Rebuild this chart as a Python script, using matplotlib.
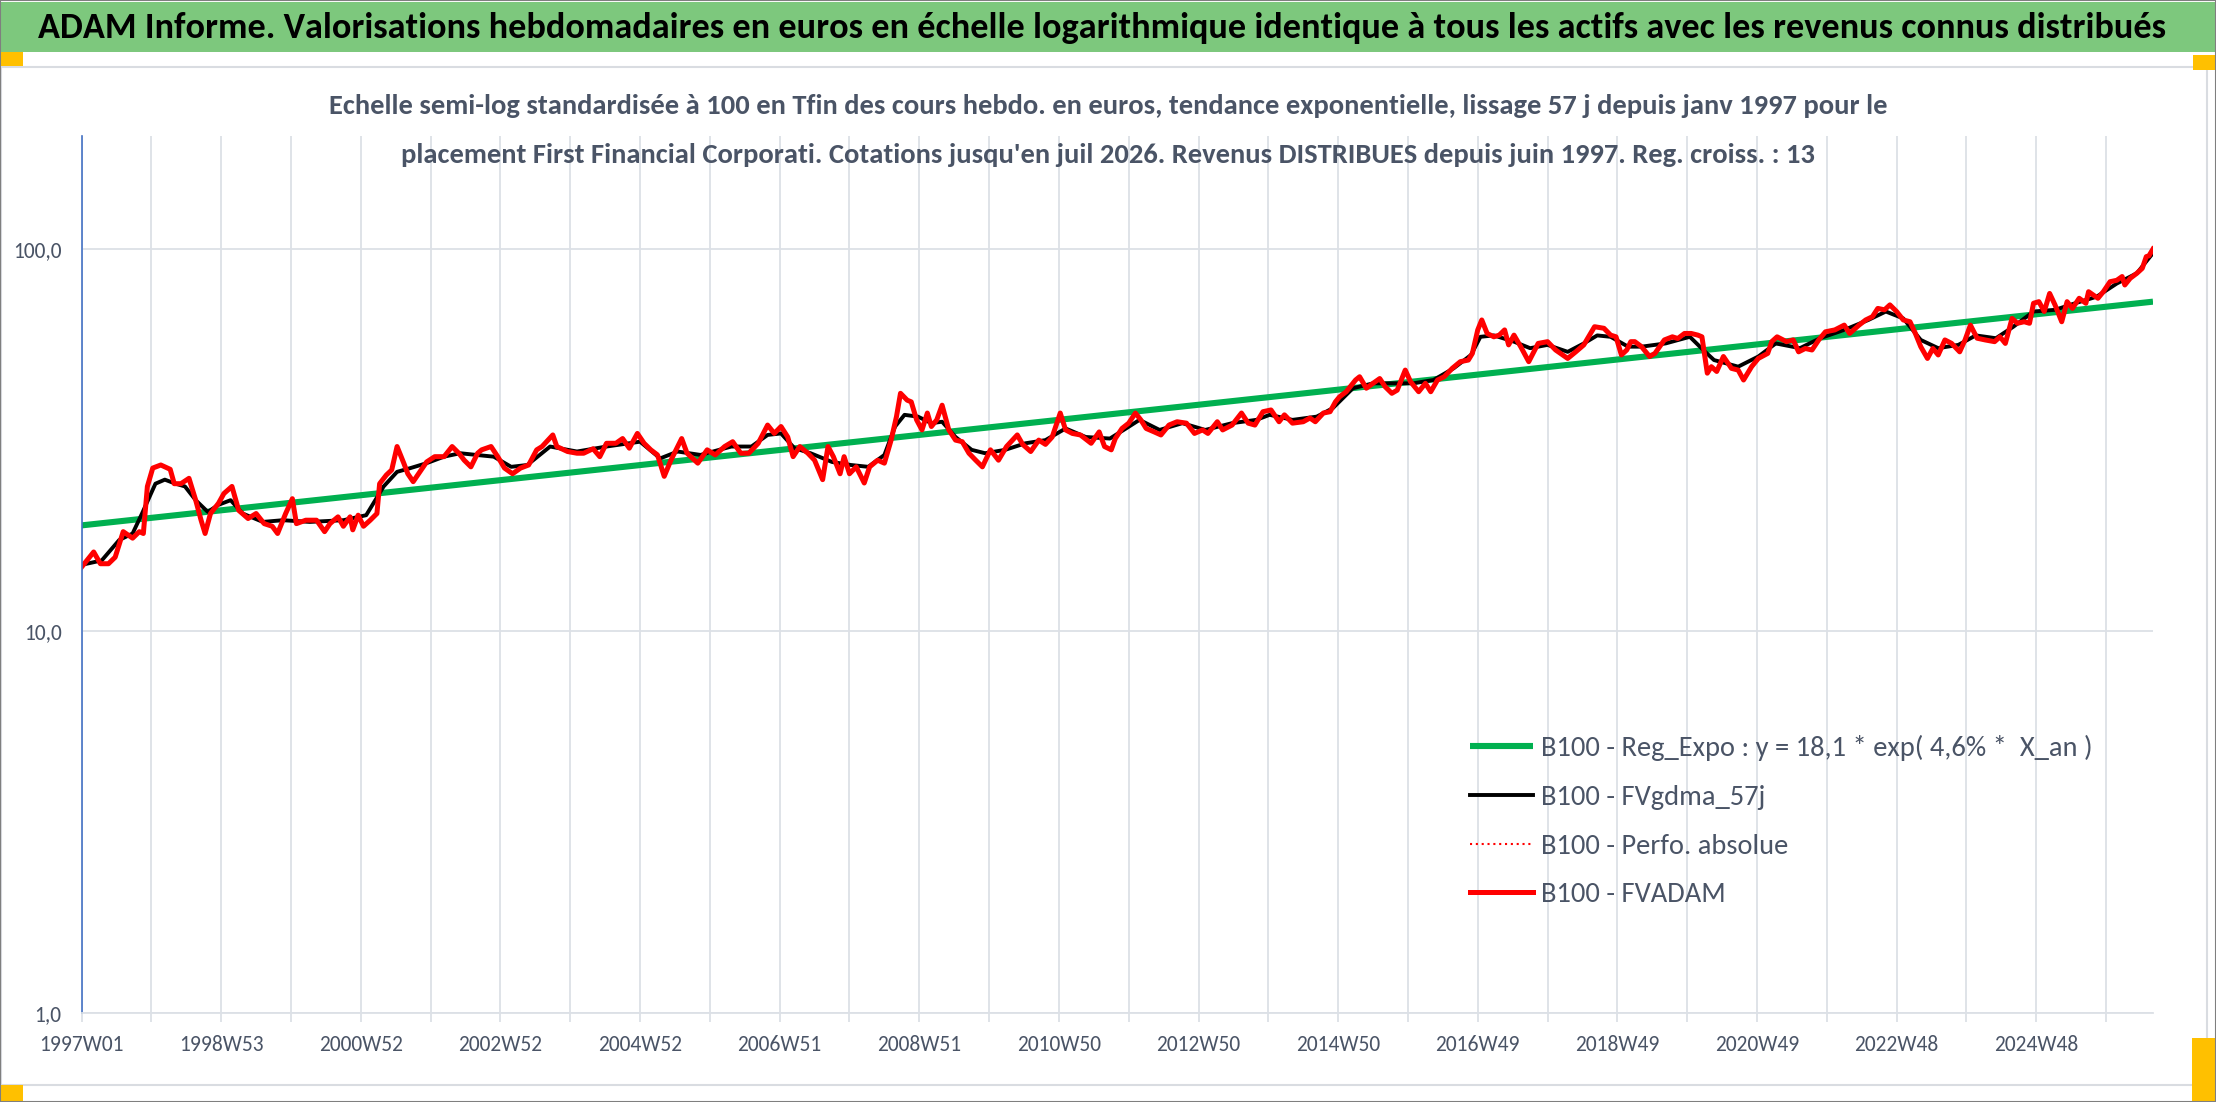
import numpy as np
import matplotlib
matplotlib.use('Agg')
import matplotlib.pyplot as plt
from matplotlib.patches import Rectangle

plt.rc('font', family=['Carlito', 'Lato', 'DejaVu Sans'])

W, H = 2216, 1102
TXT = '#4A5466'
GRID = '#DCE0E6'

# ---- data (x = weeks since 1997W01) ----
red_weeks = [0, 9, 14, 20, 25, 31, 38, 43, 46, 49, 53, 59, 64, 66, 69, 74, 80, 85, 89, 92, 96, 102, 106, 112, 117, 124,
             130, 136, 142, 146, 152, 157, 160, 167, 175, 181, 185, 191, 195, 200, 202, 206, 210, 215, 220, 222, 227,
             231, 235, 240, 243, 247, 251, 257, 263, 270, 276, 281, 285, 290, 295, 298, 305, 310, 315, 321, 327, 333,
             339, 343, 351, 354, 362, 369, 374, 381, 386,
             391, 398, 403, 408, 414, 419, 424, 429, 434, 439, 447, 451, 459, 466, 472, 479, 485, 491, 497, 504, 511,
             516, 521, 526, 530, 535, 541, 546, 552, 556, 560, 565, 568, 572, 577, 583, 587, 593, 598, 603, 607, 610,
             615, 618, 622, 626, 630, 633, 637, 641, 646, 651, 656, 661, 666, 671, 677, 683, 689, 697, 701, 707, 713,
             718, 723, 729, 733, 738, 744, 752, 758, 762, 767, 770,
             775, 780, 785, 789, 793, 799, 804, 810, 816, 823, 829, 835, 839, 846, 850, 857, 864, 869, 874, 880, 886,
             892, 896, 902, 910, 915, 919, 925, 930, 934, 937, 942, 949, 952, 957, 962, 967, 971, 976, 980, 986, 990,
             996, 1001, 1005, 1010, 1015, 1021, 1027, 1033, 1036, 1040, 1043, 1047, 1052, 1056, 1060, 1063, 1067,
             1072, 1078, 1085, 1092, 1098, 1107, 1113, 1119, 1127, 1134, 1139, 1143, 1147, 1151, 1154,
             1157, 1162, 1168, 1172, 1179, 1185, 1189, 1194, 1199, 1204, 1207, 1211, 1214, 1218, 1223, 1229, 1234,
             1238, 1244, 1249, 1256, 1259, 1263, 1270, 1275, 1279, 1284, 1289, 1294, 1299, 1306, 1313, 1317, 1324,
             1329, 1334, 1338, 1343, 1347, 1352, 1357, 1362, 1366, 1370, 1375, 1379, 1383, 1388, 1393, 1399, 1403,
             1407, 1412, 1418, 1425, 1429, 1433, 1438, 1442, 1447, 1451, 1454, 1458, 1462, 1466, 1470, 1475, 1479,
             1483, 1488, 1493, 1495, 1502, 1506, 1511, 1516, 1520, 1522, 1526, 1531, 1535, 1538, 1540, 1543]
red_vals = [14.7, 16.1, 15.0, 15.0, 15.6, 18.2, 17.5, 18.2, 18.0, 23.9, 26.7, 27.2, 26.7, 26.5, 24.3, 24.3, 25.1, 22.0,
            19.5, 18.0, 20.3, 21.6, 22.9, 23.9, 20.7, 19.7,
            20.3, 19.1, 18.8, 18.0, 20.3, 22.2, 19.1, 19.5, 19.5, 18.2, 19.1, 19.9, 18.8, 19.9, 18.4, 20.1, 18.8, 19.5,
            20.3, 24.3, 25.6, 26.4, 30.4, 27.5, 25.8, 24.6, 25.8, 27.7, 28.6, 28.6, 30.4, 29.2, 28.0, 26.9, 29.2, 29.8,
            30.4, 28.6, 26.7, 25.8, 26.7, 27.2, 29.8, 30.4, 32.6, 30.4, 29.5, 29.2, 29.2, 30.0, 28.6,
            31.0, 31.0, 31.9, 30.1, 32.9, 31.0, 29.8, 28.9, 25.4, 28.0, 31.9, 29.2, 27.5, 29.8, 28.9, 30.4, 31.3, 29.2,
            29.2, 31.0, 34.6, 32.9, 34.3, 32.2, 28.6, 30.4, 29.2, 28.0, 24.9, 30.4, 28.6, 25.8, 28.6, 25.8, 26.9, 24.4,
            26.9, 28.0, 27.5, 31.6, 36.4, 41.9, 40.2, 39.8, 35.7, 33.6, 37.2, 34.3, 35.7, 39.0, 33.6, 31.6, 31.3, 29.2,
            28.0, 26.9, 29.8, 28.0, 30.4, 32.6, 30.8, 29.5, 31.6, 30.8, 32.2, 37.2, 33.6, 32.9, 32.6, 31.0, 33.2, 30.4,
            29.8, 31.9,
            33.9, 35.0, 37.2, 35.7, 33.9, 33.2, 32.6, 34.6, 35.3, 35.0, 32.9, 33.6, 32.9, 35.3, 33.6, 34.6, 37.2, 35.0,
            34.6, 37.5, 37.9, 35.3, 36.8, 35.0, 35.3, 36.1, 35.3, 37.2, 37.5, 39.8, 41.0, 42.3, 45.4, 46.3, 43.2, 44.5,
            45.8, 43.6, 41.9, 42.7, 48.2, 44.9, 42.3, 44.5, 42.3, 45.4, 46.3, 48.7, 50.7, 51.2, 53.3, 61.4, 65.2, 60.1,
            58.9, 59.5, 61.4, 56.1, 59.5, 55.5, 50.7, 56.6, 57.2, 54.4, 51.7, 53.8, 56.1, 62.6, 62.0, 59.5, 58.9, 52.8,
            54.4, 57.2,
            57.2, 55.5, 52.3, 53.3, 57.8, 58.9, 58.3, 60.1, 60.1, 59.5, 58.9, 47.3, 49.2, 47.8, 52.3, 48.7, 48.2, 45.4,
            49.2, 51.7, 53.3, 57.2, 58.9, 57.2, 57.8, 53.8, 54.9, 54.4, 57.8, 60.7, 61.4, 63.2, 60.1, 63.2, 65.2, 66.5,
            69.9, 69.3, 71.4, 68.6, 65.2, 64.5, 60.1, 55.5, 51.7, 54.9, 52.8, 57.8, 56.6, 53.8, 57.8, 63.2, 58.4, 57.8,
            57.2, 58.9, 56.6, 65.8, 63.9, 64.5, 63.9, 72.1, 72.8, 68.6, 76.5, 71.4, 64.5, 72.8, 69.9, 74.3, 72.1, 77.3,
            74.3, 77.3, 82.1, 82.8, 84.7, 80.5, 83.8, 86.4, 89.0, 95.5, 96.0, 100.0]

black_weeks = [0, 15, 28, 38, 45, 55, 62, 70, 77, 85, 94, 102, 111, 120, 135, 150, 170, 195, 212, 225, 235, 245, 257,
               270, 282, 294, 307, 320, 332, 349, 369, 391, 416, 431, 444, 461, 484, 499, 511, 521, 531, 543, 559, 573,
               586, 598, 606, 613, 623, 633, 641, 651, 663, 673, 688, 703, 718, 733, 748, 766, 778, 788, 803, 820, 837,
               857, 875, 885, 902, 920, 932, 947, 962, 977, 992, 1007, 1022, 1035, 1042, 1052, 1067, 1079, 1092, 1107,
               1119, 1129, 1139, 1152, 1162, 1180, 1198, 1208, 1216, 1234, 1249, 1262, 1280, 1295, 1313, 1331, 1344,
               1357, 1370, 1383, 1398, 1411, 1426, 1439, 1454, 1470, 1485, 1501, 1516, 1531, 1543]
black_vals = [14.9, 15.3, 17.3, 18.0, 20.3, 24.3, 24.9, 24.3, 23.9, 22.0, 20.5, 21.4, 22.0, 20.3, 19.3, 19.5, 19.3,
              19.5, 20.1, 23.9, 26.1, 26.7, 27.5, 28.6, 29.2, 28.9, 28.6, 26.9, 27.2, 30.4, 29.5, 30.4, 31.3, 28.3,
              29.5, 28.9, 30.4, 30.4, 32.6, 32.9, 30.1, 29.2, 27.7, 27.2, 26.9, 28.9, 34.3, 36.8, 36.4, 35.0, 35.3,
              32.2, 29.8, 29.2, 29.8, 31.0, 31.6, 33.9, 32.2, 31.9, 33.9, 35.7, 33.6, 35.0, 33.6, 35.0, 35.7, 36.8,
              35.7, 36.4, 38.3, 43.2, 44.5, 44.5, 44.5, 45.4, 48.7, 52.8, 58.9, 59.4, 57.2, 55.0, 56.1, 53.8, 56.6,
              59.4, 58.9, 55.5, 55.5, 56.6, 58.9, 54.4, 51.2, 49.2, 52.3, 56.6, 55.0, 58.4, 61.4, 65.2, 68.6, 65.8,
              57.8, 55.0, 56.1, 59.4, 58.4, 62.6, 68.6, 69.3, 72.1, 75.0, 81.2, 86.4, 97.6]

# regression line end points
reg_weeks = [0, 1543]
reg_vals = [18.9, 72.8]

tick_weeks = list(range(0, 1457, 104))
tick_labels = ['1997W01', '1998W53', '2000W52', '2002W52', '2004W52', '2006W51', '2008W51', '2010W50',
               '2012W50', '2014W50', '2016W49', '2018W49', '2020W49', '2022W48', '2024W48']

title = ("ADAM Informe. Valorisations hebdomadaires en euros en échelle logarithmique identique à tous "
         "les actifs avec les revenus connus distribués")
sub1 = ("Echelle semi-log standardisée à 100 en Tfin des cours hebdo. en euros, tendance exponentielle, "
        "lissage 57 j depuis janv 1997 pour le")
sub2 = ("placement First Financial Corporati. Cotations jusqu'en juil 2026. Revenus DISTRIBUES depuis "
        "juin 1997. Reg. croiss. : 13")
labels = ['B100 - Reg_Expo : y = 18,1 * exp( 4,6% *  X_an )', 'B100 - FVgdma_57j',
          'B100 - Perfo. absolue', 'B100 - FVADAM']

fig = plt.figure(figsize=(W / 100, H / 100), dpi=100)
ax = fig.add_axes([81.6 / W, 1 - 1013 / H, (2153 - 81.6) / W, (1013 - 136) / H])

l1, = ax.plot(reg_weeks, reg_vals, color='#00B050', lw=4.4, solid_capstyle='butt')
l2, = ax.plot(black_weeks, black_vals, color='black', lw=2.8)
l3, = ax.plot(red_weeks, red_vals, color='red', lw=1.5, ls=(0, (1, 1.8)))
l4, = ax.plot(red_weeks, red_vals, color='red', lw=3.6, solid_joinstyle='round')

ax.set_yscale('log')
ax.set_ylim(1, 197.6)
ax.set_xlim(0, 1543)
ax.set_yticks([1, 10, 100])
ax.set_yticklabels(['1,0', '10,0', '100,0'])
ax.yaxis.set_minor_locator(matplotlib.ticker.NullLocator())
ax.set_xticks(tick_weeks)
ax.set_xticklabels(tick_labels)
ax.set_xticks(list(range(52, 1510, 104)), minor=True)

ax.grid(True, which='both', color=GRID, lw=1.3)
ax.set_axisbelow(True)
ax.tick_params(axis='x', which='both', direction='out', length=6.5, width=1.3, color=GRID,
               labelsize=15.5, labelcolor=TXT, pad=9)
ax.tick_params(axis='y', length=0, labelsize=15.5, labelcolor=TXT, pad=14.5)
for s in ['top', 'right']:
    ax.spines[s].set_visible(False)
ax.spines['left'].set_color('#4472C4')
ax.spines['left'].set_linewidth(1.2)
ax.spines['bottom'].set_color(GRID)
ax.spines['bottom'].set_linewidth(1.3)

# ---- frame, title bar, orange corners ----
fig.patches.append(Rectangle((0, 1 - 52 / H), 1, 50 / H, transform=fig.transFigure,
                             facecolor='#7DC87D', edgecolor='none', zorder=0))
fig.patches.append(Rectangle((1 / W, 1 - 1085 / H), 2206 / W, (1085 - 67) / H, transform=fig.transFigure,
                             facecolor='none', edgecolor='#D9DCE1', lw=1.5, zorder=1))
for (x0, y0, w, h) in [(0, 52, 23, 14), (2193, 55, 23, 15), (0, 1085, 23, 16), (2192, 1038, 24, 63)]:
    fig.patches.append(Rectangle((x0 / W, 1 - (y0 + h) / H), w / W, h / H, transform=fig.transFigure,
                                 facecolor='#FFC000', edgecolor='none', zorder=2))
fig.patches.append(Rectangle((0, 0), 1, 1, transform=fig.transFigure, facecolor='none',
                             edgecolor='#7F7F7F', lw=1.5, zorder=3))

r = fig.canvas.get_renderer()


def fit(t, target):
    w = t.get_window_extent(r).width
    t.set_fontsize(t.get_fontsize() * target / w)


t0 = fig.text(38 / W, 1 - 28 / H, title, ha='left', va='center', weight='bold', color='black', fontsize=24)
fit(t0, 2128)
t1 = fig.text(0.5, 1 - 106 / H, sub1, ha='center', va='center', weight='bold', color=TXT, fontsize=18)
fit(t1, 1557)
t2 = fig.text(0.5, 1 - 155 / H, sub2, ha='center', va='center', weight='bold', color=TXT,
              fontsize=t1.get_fontsize())

# legend font fitted on the first label width
tmp = fig.text(0, 0, labels[0], fontsize=16)
fs = 16 * 553 / tmp.get_window_extent(r).width
tmp.remove()
fs_px = fs * 100 / 72
ax.legend([l1, l2, l3, l4], labels, loc='upper left', bbox_to_anchor=(1470 / W, 1 - 735 / H),
          bbox_transform=fig.transFigure, frameon=False, borderpad=0, borderaxespad=0, fontsize=fs,
          labelcolor=TXT, handlelength=63 / fs_px, handletextpad=8 / fs_px,
          labelspacing=(58 - 1.2 * fs_px) / fs_px)

fig.savefig('out.png', dpi=100)
